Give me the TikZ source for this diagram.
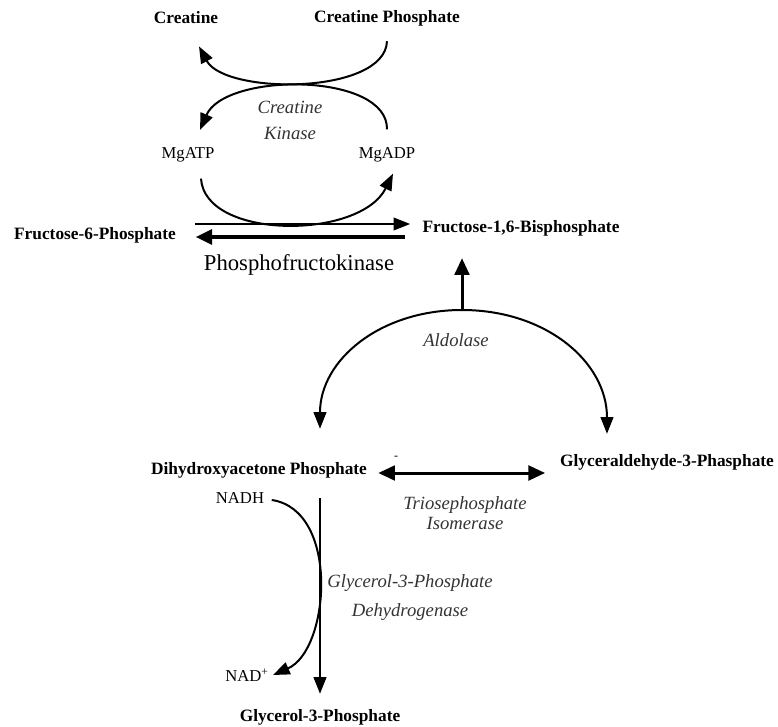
\documentclass[tikz,border=0pt]{standalone}
\usepackage{fontspec}
\setmainfont{Liberation Serif}
\usetikzlibrary{arrows.meta}

\begin{document}
\begin{tikzpicture}[x=0.75pt, y=-0.75pt, line width=1.5pt,
    met/.style={font=\fontsize{13}{15}\selectfont\bfseries, inner sep=1pt},
    cof/.style={font=\fontsize{12.5}{15}\selectfont, inner sep=1pt},
    enz/.style={font=\fontsize{14}{17}\selectfont\itshape, align=center, inner sep=1pt, text=black!80},
    tip/.style={-{Triangle[length=12.5pt,width=9.5pt]}},
    bigtip/.style={-{Triangle[length=12.5pt,width=11pt]}}]

        \useasboundingbox (0,0) rectangle (778,727);

        % Creatine kinase coupling
        \node[met] (cr) at (186,18) {Creatine};
        \node[met] (crp) at (387,18) {Creatine Phosphate};
        \node[cof] (atp) at (188,155) {MgATP};
        \node[cof] (adp) at (387,155) {MgADP};
        \node[enz] (ck) at (290,120) {Creatine\\[2.5pt]Kinase};

        \draw[tip] ([yshift=-9.75pt]crp.south) .. controls (385,95) and (225,95) .. ([xshift=9.75pt,yshift=-15pt]cr.south);
        \draw[tip] ([yshift=12pt]adp.north) .. controls (388,72) and (225,72) .. ([xshift=9pt,yshift=11.5pt]atp.north);
        \draw[tip] ([xshift=9.75pt,yshift=-10.5pt]atp.south) .. controls (205,240) and (360,240) .. ([xshift=4.5pt,yshift=-6.75pt]adp.south);

        % Phosphofructokinase step
        \node[met] (f6p) at (95,235) {Fructose-6-Phosphate};
        \node[met] (f16p) at (521,228) {Fructose-1,6-Bisphosphate};
        \node[font=\fontsize{17}{20}\selectfont, inner sep=1pt] (pfk) at (299,265) {Phosphofructokinase};

        \draw[tip] ([xshift=12.4pt,yshift=8.25pt]f6p.east) -- ([xshift=-7.5pt,yshift=3pt]f16p.west);
        \draw[bigtip, line width=3pt] ([xshift=-11.25pt,yshift=-6.75pt]f16p.west) -- ([xshift=13pt,yshift=-1.5pt]f6p.east);

        % Aldolase split
        \node[met] (dhap) at (259,470) {Dihydroxyacetone Phosphate};
        \node[met] (g3p) at (667,462) {Glyceraldehyde-3-Phasphate};
        \node[enz] (ald) at (456,340) {Aldolase};
        \coordinate (split) at (462,310);

        \draw[bigtip, line width=2.25pt] (split) -- ([xshift=-44.25pt,yshift=-15pt]f16p.south);
        \draw[tip] (split) .. controls (380,310) and (320,360) .. ([xshift=45.75pt,yshift=23.25pt]dhap.north);
        \draw[tip] (split) .. controls (546,310) and (607,362) .. ([xshift=-45pt,yshift=13.5pt]g3p.north);

        % Triosephosphate isomerase
        \node[enz] (tpi) at (465,513) {Triosephosphate\\[-2pt]Isomerase};
        \node[font=\small, inner sep=0pt] (dash) at (396,458) {-};
        \draw[{Triangle[length=12.5pt,width=11pt]}-{Triangle[length=12.5pt,width=11pt]}, line width=2.25pt]
            ([xshift=6.75pt,yshift=-2.25pt]dhap.east) -- ([xshift=-9.5pt,yshift=-8.25pt]g3p.west);

        % Glycerol-3-phosphate dehydrogenase
        \node[cof] (nadh) at (240,498) {NADH};
        \node[cof] (nad) at (247,675) {NAD\textsuperscript{+}};
        \node[met] (gp) at (320,717) {Glycerol-3-Phosphate};
        \node[enz] (gpd) at (410,598) {Glycerol-3-Phosphate\\[4.75pt]Dehydrogenase};

        \draw[tip] ([xshift=4pt,yshift=-1.5pt]nadh.east) .. controls (340,510) and (330,650) .. ([xshift=1.5pt]nad.east);
        \draw[tip] ([xshift=45.75pt,yshift=-13.5pt]dhap.south) -- ([yshift=9.75pt]gp.north);

\end{tikzpicture}
\end{document}
